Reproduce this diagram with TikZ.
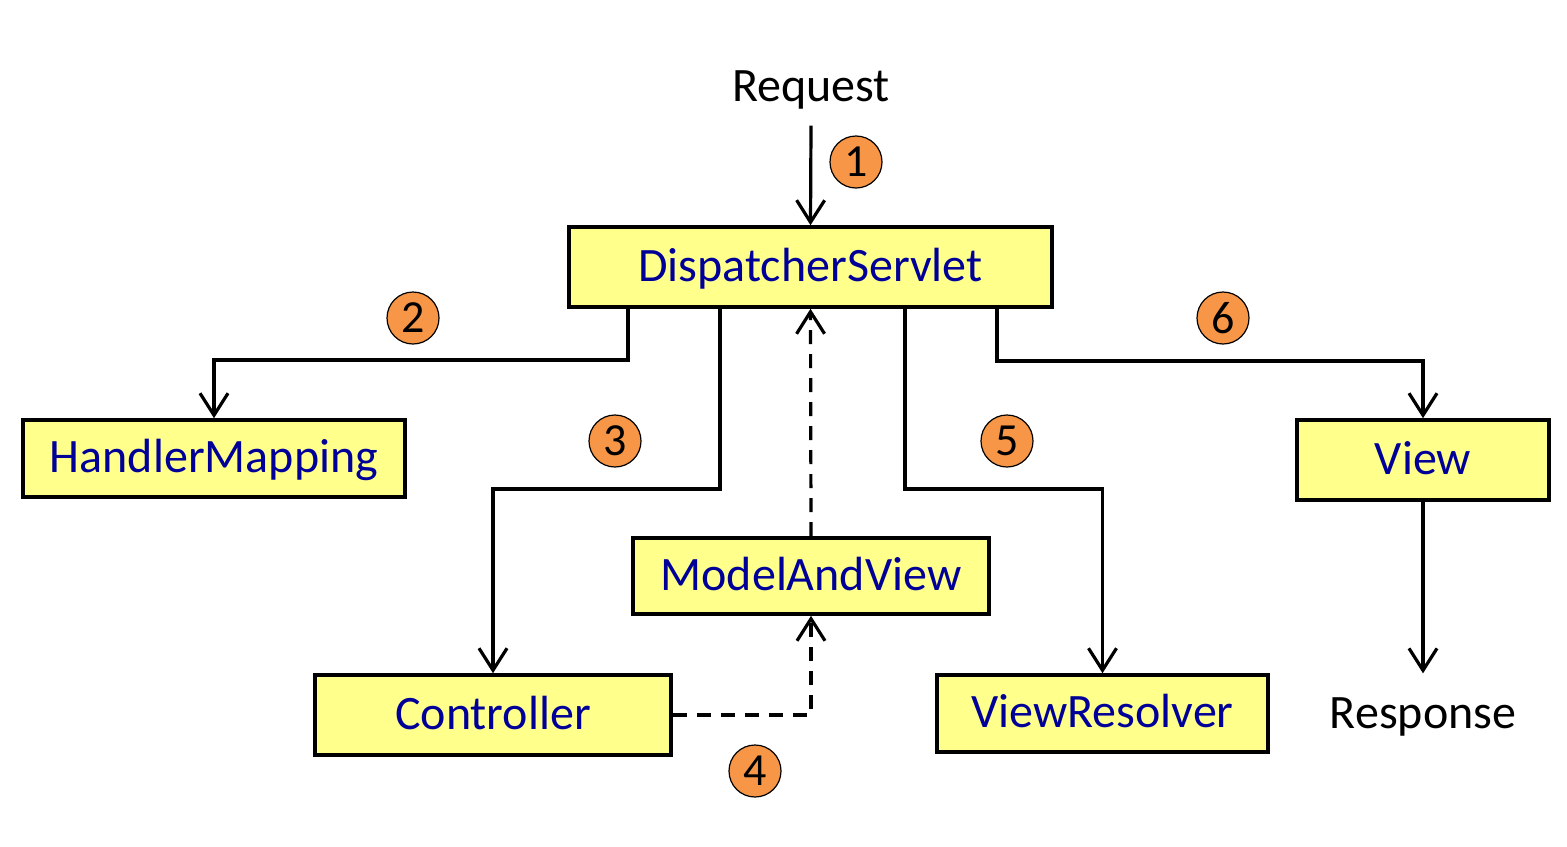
\documentclass[tikz,border=0pt]{standalone}
\usepackage{fontspec}
\setmainfont{Carlito}
\usetikzlibrary{arrows.meta}
\definecolor{boxfill}{RGB}{255,255,140}
\definecolor{boxtext}{RGB}{0,0,153}
\definecolor{numfill}{RGB}{247,150,70}
\tikzset{
  box/.style={draw=black, line width=1.8pt, fill=boxfill, text=boxtext, inner sep=0pt, text height=14.5pt, text depth=0.5pt, font=\fontsize{24}{28}\selectfont},
  plain/.style={text=black, inner sep=0pt, font=\fontsize{24}{28}\selectfont},
  num/.style={circle, draw=black, line width=0.6pt, fill=numfill, minimum size=26pt, inner sep=0pt, font=\fontsize{23}{27}\selectfont},
  arr/.style={line width=1.6pt, -{Straight Barb[length=11pt,width=14pt,line width=1.6pt]}},
  dsh/.style={arr, dash pattern=on 7pt off 5pt},
}
\begin{document}
\begin{tikzpicture}[x=0.5pt,y=-0.5pt]
\useasboundingbox (0,0) rectangle (1567,846);
\node[plain] (req) at (811,90) {Request};
\node[plain] (resp) at (1423,717) {Response};
\node[box, minimum width=241.5pt, minimum height=40pt] (ds) at (810.5,267) {DispatcherServlet};
\node[box, minimum width=191pt, minimum height=38.5pt] (hm) at (214,458.5) {HandlerMapping};
\node[box, minimum width=178pt, minimum height=40pt] (ctrl) at (493,715) {Controller};
\node[box, minimum width=178pt, minimum height=38pt] (mav) at (811,576) {ModelAndView};
\node[box, minimum width=165.5pt, minimum height=38.5pt] (vr) at (1102.5,713.5) {ViewResolver};
\node[box, minimum width=126pt, minimum height=40pt] (view) at (1423,460) {View};
\node[num] (n1) at (856,162) {1};
\node[num] (n2) at (413,318) {2};
\node[num] (n3) at (615,441) {3};
\node[num] (n4) at (755,771) {4};
\node[num] (n5) at (1007,441) {5};
\node[num] (n6) at (1223,318) {6};
\coordinate (a2) at (628,307);
\coordinate (a3) at (720,307);
\coordinate (a5) at (905,307);
\coordinate (a6) at (997,307);
\draw[arr] ([yshift=-8pt]req.south) -- (ds.north);
\draw[arr] (a2) -- ++(0,53) -| (hm.north);
\draw[arr] (a3) -- ++(0,182) -| (ctrl.north);
\draw[arr] (a5) -- ++(0,182) -| (vr.north);
\draw[arr] (a6) -- ++(0,54) -| (view.north);
\draw[dsh] (ctrl.east) -| (mav.south);
\draw[dsh] (mav.north) -- (ds.south);
\draw[arr, shorten >=12pt] (view.south) -- (resp.north);
\end{tikzpicture}
\end{document}
